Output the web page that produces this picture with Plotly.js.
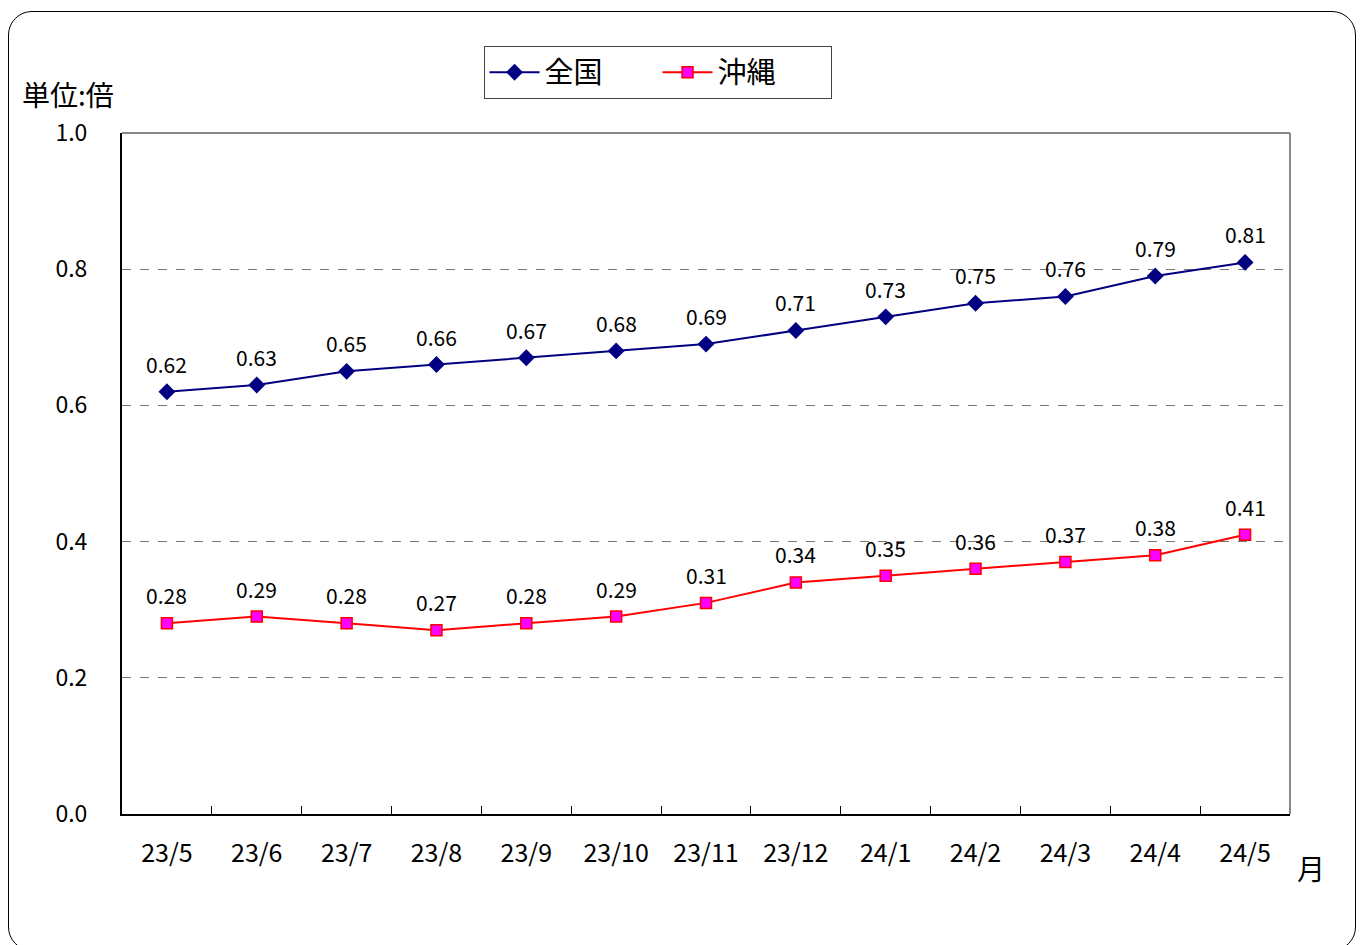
<!DOCTYPE html>
<html><head><meta charset="utf-8">
<script src="https://cdn.plot.ly/plotly-3.0.1.min.js"></script>
<style>
html,body{margin:0;padding:0;background:#fff;}
#wrap{position:relative;width:1362px;height:945px;}
#chart{position:absolute;left:0;top:0;width:1362px;height:945px;}
#frame{position:absolute;left:8px;top:11px;width:1348px;height:940px;border:1.5px solid #000;border-radius:24px;pointer-events:none;box-sizing:border-box;}
</style></head>
<body>
<div id="wrap"><div id="chart"></div><div id="frame"></div></div>
<script>
const months = ["23/5","23/6","23/7","23/8","23/9","23/10","23/11","23/12","24/1","24/2","24/3","24/4","24/5"];
const zenkoku = [0.62,0.63,0.65,0.66,0.67,0.68,0.69,0.71,0.73,0.75,0.76,0.79,0.81];
const okinawa = [0.28,0.29,0.28,0.27,0.28,0.29,0.31,0.34,0.35,0.36,0.37,0.38,0.41];
const yTicks = [0.0,0.2,0.4,0.6,0.8,1.0];

const F = "'Noto Sans CJK JP', 'Noto Sans', sans-serif";
const fmt = v => v.toFixed(2);

const traces = [
  {x: months, y: zenkoku, name: "全国", type: "scatter", mode: "lines+markers",
   line: {color: "#000080", width: 2},
   marker: {symbol: "diamond", size: 13, color: "#000080"}},
  {x: months, y: okinawa, name: "沖縄", type: "scatter", mode: "lines+markers",
   line: {color: "#FF0000", width: 2},
   marker: {symbol: "square", size: 11, color: "#FF00FF", line: {color: "#FF0000", width: 1.5}}}
];

const labelAnn = (xs, ys) => xs.map((m, i) => ({
  x: m, y: ys[i], xref: "x", yref: "y", text: fmt(ys[i]), showarrow: false,
  yanchor: "middle", xanchor: "center", yshift: 28,
  font: {family: F, size: 21, color: "#000"}
}));

const layout = {
  width: 1362, height: 945,
  margin: {l: 122, r: 72, t: 133, b: 131},
  paper_bgcolor: "#fff", plot_bgcolor: "#fff",
  font: {family: F, size: 20, color: "#000"},
  showlegend: true,
  legend: {orientation: "h", x: 0.4585, xanchor: "center", y: 1.128, yanchor: "top",
           bordercolor: "#444", borderwidth: 1, font: {family: F, size: 29, color: "#000"},
           itemwidth: 50, entrywidth: 108, traceorder: "normal", bgcolor: "#fff"},
  xaxis: {type: "category", range: [-0.5, 12.5], tickson: "boundaries",
          ticks: "inside", ticklen: 8, tickcolor: "#000", tickwidth: 1,
          showline: true, linecolor: "#000", linewidth: 2, mirror: false,
          showgrid: false, zeroline: false, ticklabelstandoff: 16,
          tickfont: {family: F, size: 25, color: "#000"}},
  yaxis: {range: [0, 1.0], tickvals: yTicks, ticktext: yTicks.map(v => v.toFixed(1)),
          showline: true, linecolor: "#000", linewidth: 2, ticks: "",
          showgrid: true, gridcolor: "#777", griddash: "dash", gridwidth: 1,
          zeroline: false, ticklabelstandoff: 28,
          tickfont: {family: F, size: 23, color: "#000"}},
  shapes: [
    {type: "line", xref: "paper", yref: "paper", x0: 0, x1: 1, y0: 1, y1: 1, line: {color: "#888", width: 2}},
    {type: "line", xref: "paper", yref: "paper", x0: 1, x1: 1, y0: 0, y1: 1, line: {color: "#888", width: 2}}
  ],
  annotations: [
    {text: "単位:倍", xref: "paper", yref: "paper", x: -0.087, y: 1.057, xanchor: "left", yanchor: "middle",
     showarrow: false, font: {family: F, size: 28, color: "#000"}},
    {text: "月", xref: "paper", yref: "paper", x: 1.0, y: -0.08, xanchor: "left", yanchor: "middle",
     xshift: 5, showarrow: false, font: {family: F, size: 28, color: "#000"}}
  ].concat(labelAnn(months, zenkoku), labelAnn(months, okinawa))
};

Plotly.newPlot("chart", traces, layout, {displayModeBar: false, staticPlot: true});
</script>
</body></html>
